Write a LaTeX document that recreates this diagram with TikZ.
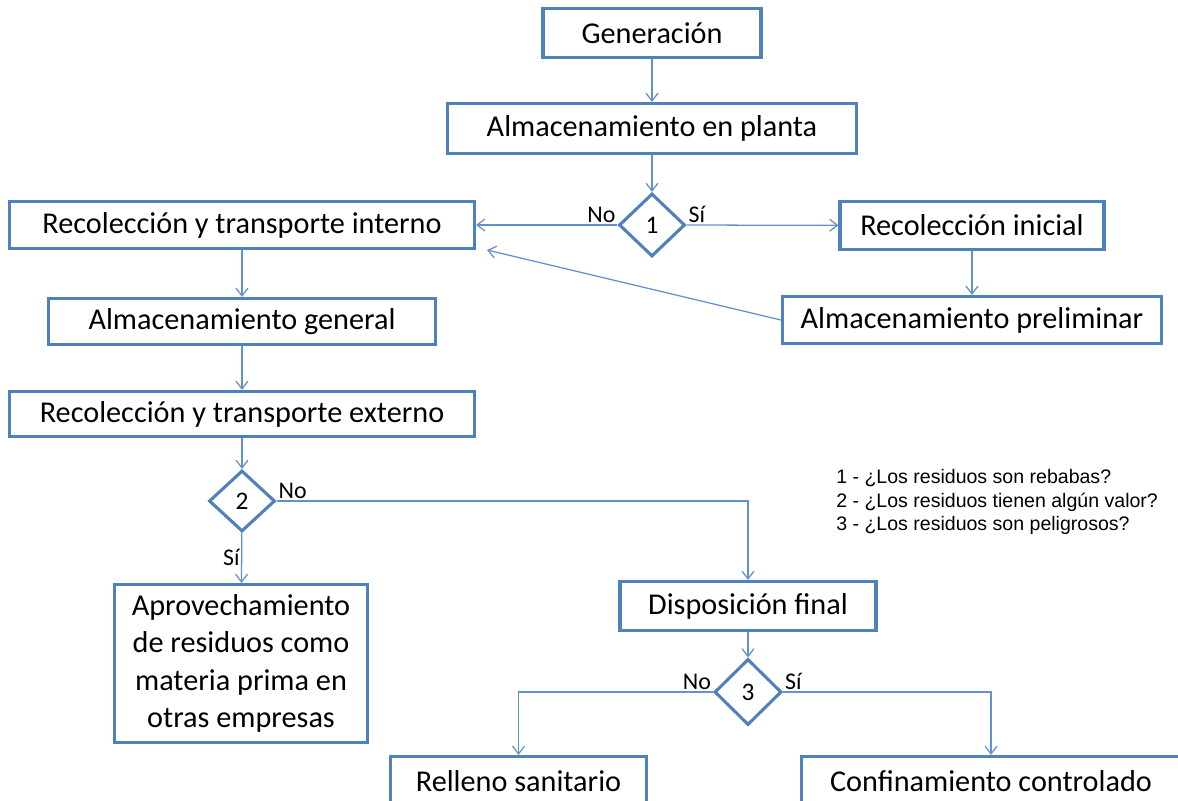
\documentclass[tikz,border=0pt]{standalone}
\usepackage{fontspec}
\setmainfont{Carlito}
\newfontfamily\legendfont{Liberation Sans}
\usetikzlibrary{arrows.meta,shapes.geometric}
\definecolor{boxblue}{RGB}{79,129,189}
\definecolor{lineblue}{RGB}{98,146,206}

\begin{document}
\begin{tikzpicture}[
    x=0.025cm, y=-0.025cm,
    >={Straight Barb[length=5.5pt,width=8.5pt]},
    every node/.style={font=\fontsize{21.5}{26.5}\selectfont},
    stepbox/.style={draw=boxblue, line width=2.2pt, fill=white, inner sep=0pt},
    decision/.style={diamond, draw=boxblue, line width=2.2pt, fill=white, inner sep=0pt, font=\fontsize{18}{21}\selectfont},
    flow/.style={->, draw=lineblue, line width=0.9pt},
    answer/.style={font=\fontsize{17}{20}\selectfont, inner sep=1pt}
]
    \useasboundingbox (0,0) rectangle (1178,801);
    \clip (0,0) rectangle (1178,801);

    \node[stepbox, minimum width=5.45cm, minimum height=1.225cm] (gen) at (652,33) {Generación};
    \node[stepbox, minimum width=10.225cm, minimum height=1.25cm] (almplanta) at (652,128.5) {Almacenamiento en planta};
    \node[decision, minimum width=1.65cm, minimum height=1.575cm] (dec1) at (652,225) {1};
    \node[stepbox, minimum width=11.625cm, minimum height=1.175cm] (recint) at (242,225) {Recolección y transporte interno};
    \node[stepbox, minimum width=6.6cm, minimum height=1.2cm] (recini) at (972,225.5) {Recolección inicial};
    \node[stepbox, minimum width=9.475cm, minimum height=1.175cm] (almpre) at (972,320) {Almacenamiento preliminar};
    \node[stepbox, minimum width=9.675cm, minimum height=1.15cm] (almgen) at (242,321.5) {Almacenamiento general};
    \node[stepbox, minimum width=11.625cm, minimum height=1.125cm] (recext) at (242,414) {Recolección y transporte externo};
    \node[decision, minimum width=1.65cm, minimum height=1.525cm] (dec2) at (242,501) {2};
    \node[stepbox, align=center, minimum width=6.325cm, minimum height=3.95cm] (aprov) at (241,663.5)
        {Aprovechamiento\\de residuos como\\materia prima en\\otras empresas};
    \node[stepbox, minimum width=6.4cm, minimum height=1.225cm] (disp) at (748,606) {Disposición final};
    \node[decision, minimum width=1.675cm, minimum height=1.65cm] (dec3) at (748,692) {3};
    \node[stepbox, minimum width=6.4cm, minimum height=1.225cm] (relleno) at (518.5,781) {Relleno sanitario};
    \node[stepbox, minimum width=9.475cm, minimum height=1.225cm] (confin) at (991,781) {Confinamiento controlado};

    \node[font=\legendfont\fontsize{13.9}{16.4}\selectfont, align=left, anchor=west, inner sep=0pt] (legend) at (836,502)
        {1 - ¿Los residuos son rebabas?\\2 - ¿Los residuos tienen algún valor?\\3 - ¿Los residuos son peligrosos?};

    \foreach \a/\b in {gen/almplanta, almplanta/dec1, recini/almpre, recint/almgen, almgen/recext, recext/dec2, disp/dec3}
        \draw[flow] (\a) -- (\b);

    \draw[flow] (dec1) -- (recint) node[pos=0, above left, answer] {No};
    \draw[flow] (dec1) -- (recini) node[pos=0, above right, answer] {Sí};
    \coordinate (backtip) at (487,250);
    \draw[flow] (almpre.west) -- (backtip);

    \draw[flow] (dec2) -- (aprov) node[midway, left, answer] {Sí};
    \draw[flow] (dec2.east) -| (disp.north) node[pos=0, above right, answer] {No};
    \draw[flow] (dec3.west) -| (relleno.north) node[pos=0, above left, answer] {No};
    \draw[flow] (dec3.east) -| (confin.north) node[pos=0, above right, answer] {Sí};
\end{tikzpicture}
\end{document}
